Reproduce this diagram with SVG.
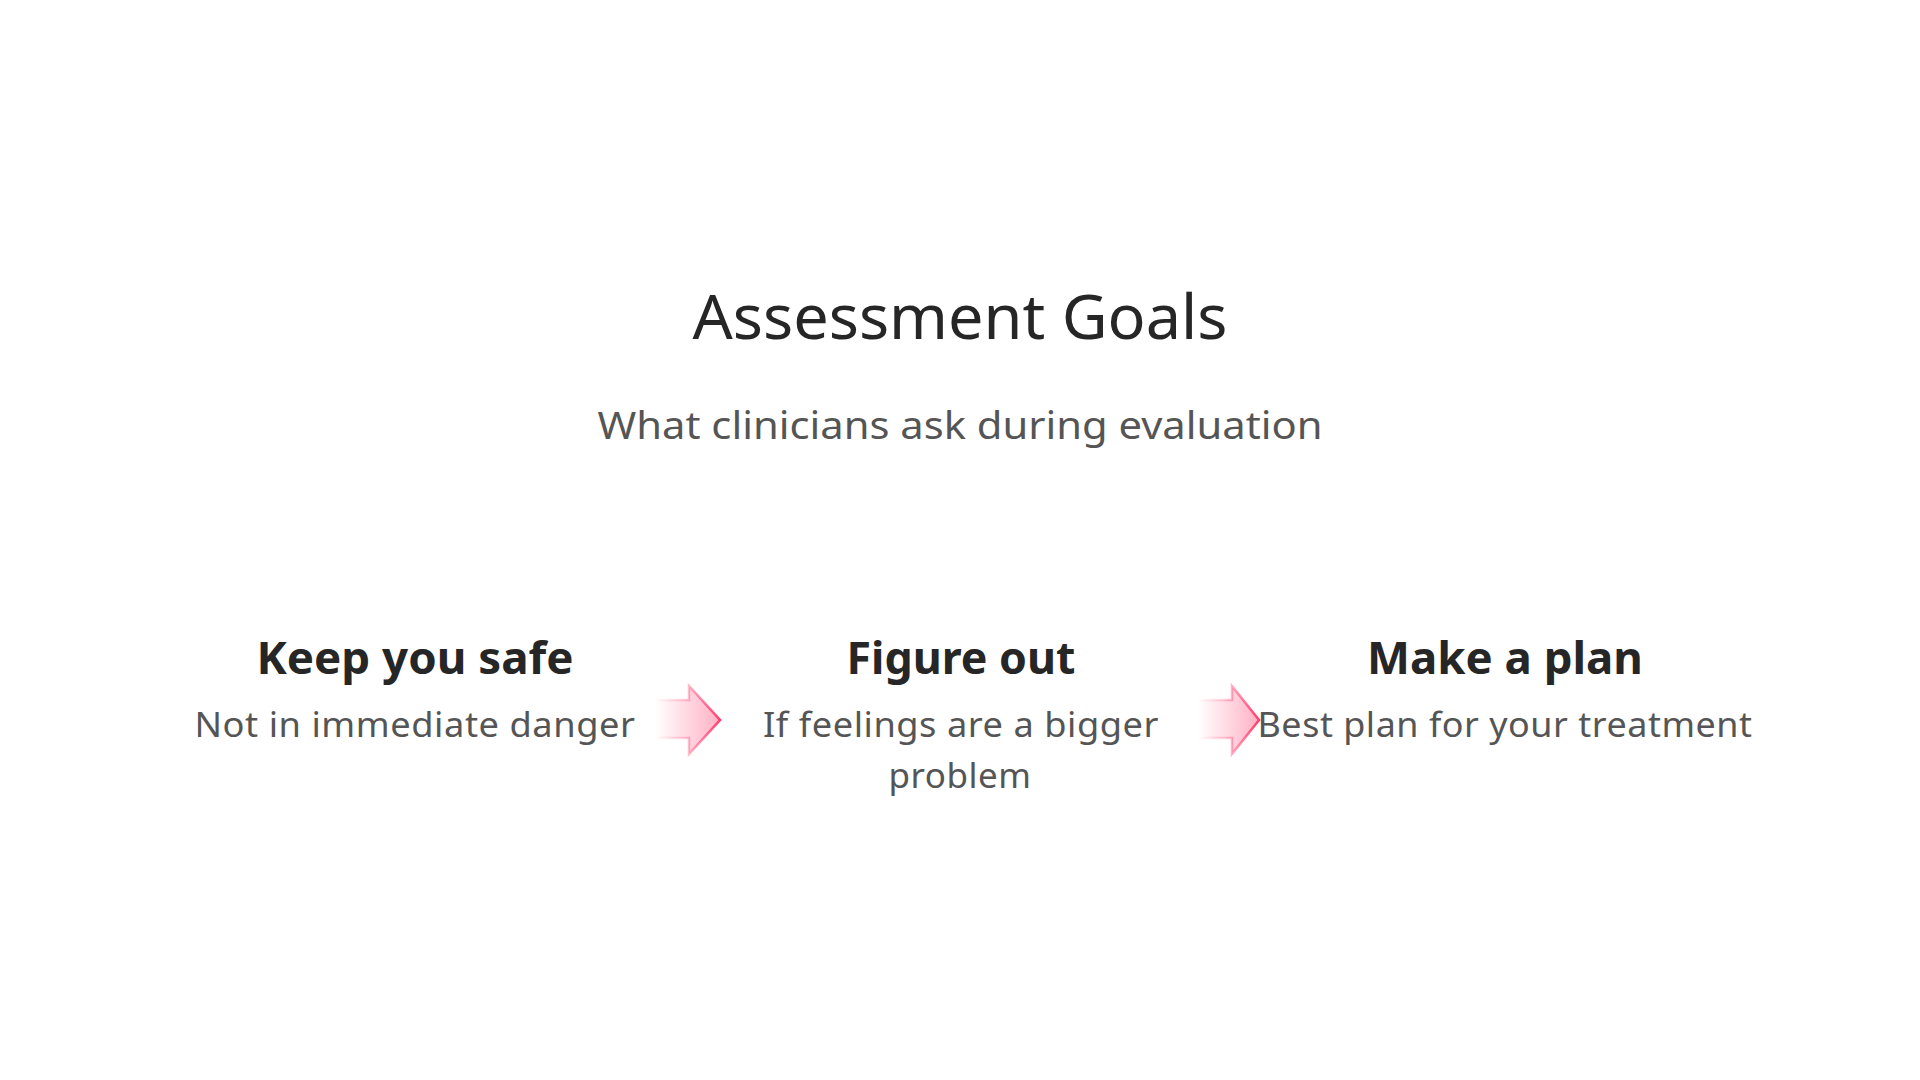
<svg xmlns="http://www.w3.org/2000/svg" width="1920" height="1080" viewBox="0 0 1920 1080">
<defs>
<linearGradient id="af" x1="0" y1="0" x2="1" y2="0">
<stop offset="0" stop-color="#ff8fab" stop-opacity="0"/>
<stop offset="1" stop-color="#ff8fab" stop-opacity="0.7"/>
</linearGradient>
<linearGradient id="as" x1="0" y1="0" x2="1" y2="0">
<stop offset="0" stop-color="#ff3d6e" stop-opacity="0"/>
<stop offset="0.45" stop-color="#ff3d6e" stop-opacity="0.25"/>
<stop offset="1" stop-color="#ff3d6e" stop-opacity="1"/>
</linearGradient>
</defs>
<style>
.t{font-family:"Noto Sans","Open Sans",sans-serif;text-anchor:middle}
.title{font-size:62px;fill:#262626}
.sub{font-size:38px;fill:#555555}
.h{font-size:44px;font-weight:bold;fill:#262626}
.d{font-size:34px;fill:#555555;letter-spacing:0.5px}
.arrow{fill:url(#af);stroke:url(#as);stroke-width:2.5;stroke-linejoin:miter}
</style>
<rect width="1920" height="1080" fill="#ffffff"/>
<g id="header">
<text class="t title" x="960" y="339" textLength="535" lengthAdjust="spacingAndGlyphs">Assessment Goals</text>
<text class="t sub" x="960" y="439" textLength="725" lengthAdjust="spacingAndGlyphs">What clinicians ask during evaluation</text>
</g>
<g id="connectors">
<path class="arrow" d="M655,700 L689,700 L689,686 L720,720 L689,754 L689,738 L655,738 Z"/>
<path class="arrow" d="M1198,700 L1232,700 L1232,686 L1259,720 L1232,754 L1232,738 L1198,738 Z"/>
</g>
<g id="node-keep-safe">
<text class="t h" x="415" y="674" textLength="317" lengthAdjust="spacingAndGlyphs">Keep you safe</text>
<text class="t d" x="415" y="737" textLength="441" lengthAdjust="spacingAndGlyphs">Not in immediate danger</text>
</g>
<g id="node-figure-out">
<text class="t h" x="961" y="674" textLength="229" lengthAdjust="spacingAndGlyphs">Figure out</text>
<text class="t d" x="961" y="737" textLength="396" lengthAdjust="spacingAndGlyphs">If feelings are a bigger</text>
<text class="t d" x="960" y="788" textLength="143" lengthAdjust="spacingAndGlyphs">problem</text>
</g>
<g id="node-make-plan">
<text class="t h" x="1505" y="674" textLength="276" lengthAdjust="spacingAndGlyphs">Make a plan</text>
<text class="t d" x="1505" y="737" textLength="495" lengthAdjust="spacingAndGlyphs">Best plan for your treatment</text>
</g>
</svg>
